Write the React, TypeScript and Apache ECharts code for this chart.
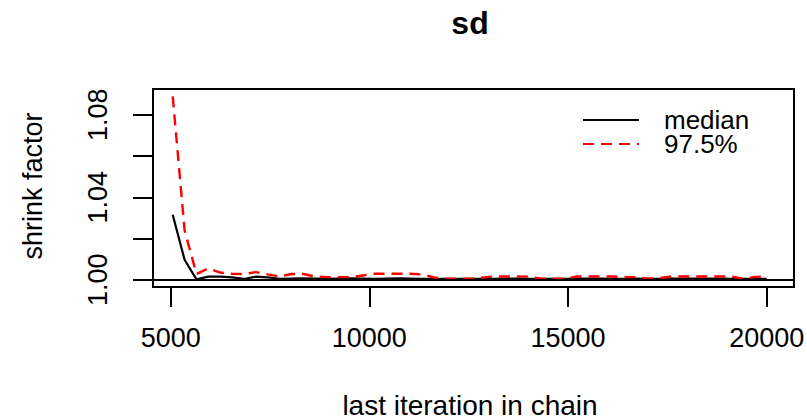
import React, { useEffect, useRef } from "react";
import * as echarts from "echarts";

const chartTitle = "sd";
const xAxisTitle = "last iteration in chain";
const yAxisTitle = "shrink factor";
const seriesNames = ["median", "97.5%"];

const lastIteration = [
  5051, 5350, 5649, 5948, 6247, 6546, 6845, 7144, 7443, 7742,
  8041, 8340, 8639, 8938, 9237, 9536, 9835, 10134, 10433, 10732,
  11031, 11330, 11629, 11928, 12227, 12526, 12825, 13124, 13423, 13722,
  14021, 14320, 14619, 14918, 15217, 15516, 15815, 16114, 16413, 16712,
  17011, 17310, 17609, 17908, 18207, 18506, 18805, 19104, 19403, 19702,
  20000,
];

const medianShrink = [
  1.0315, 1.0097, 1.0002, 1.0015, 1.0015, 1.0012, 1.0004, 1.0015, 1.0012, 1.0005,
  1.0006, 1.0007, 1.0006, 1.0005, 1.0006, 1.0007, 1.0006, 1.0005, 1.0006, 1.0007,
  1.0006, 1.0005, 1.0004, 1.0004, 1.0005, 1.0005, 1.0004, 1.0005, 1.0006, 1.0006,
  1.0005, 1.0004, 1.0004, 1.0005, 1.0006, 1.0006, 1.0006, 1.0005, 1.0005, 1.0006,
  1.0004, 1.0005, 1.0006, 1.0006, 1.0006, 1.0006, 1.0006, 1.0005, 1.0004, 1.0005,
  1.0005,
];

const upperShrink = [
  1.0889, 1.024, 1.0028, 1.0055, 1.0035, 1.0029, 1.0028, 1.0037, 1.0026, 1.0016,
  1.0028, 1.0028, 1.0016, 1.0013, 1.0013, 1.0013, 1.0021, 1.0029, 1.0029, 1.0029,
  1.0029, 1.0026, 1.0011, 1.0005, 1.0005, 1.0005, 1.001, 1.0016, 1.0016, 1.0016,
  1.0015, 1.0005, 1.0005, 1.0005, 1.0016, 1.0016, 1.0016, 1.0016, 1.0013, 1.0013,
  1.0005, 1.0008, 1.0016, 1.0016, 1.0016, 1.0016, 1.0016, 1.0016, 1.0005, 1.0014,
  1.0016,
];

const xTicks = [5000, 10000, 15000, 20000];
const yTicks = [1.0, 1.02, 1.04, 1.06, 1.08];
const yTickLabels = [1.0, 1.04, 1.08];
const referenceLevel = 1;

const FONT = "'Liberation Sans', Arial, sans-serif";

export default function App() {
  const ref = useRef<HTMLDivElement>(null);

  useEffect(() => {
    if (!ref.current) return;
    const chart = echarts.init(ref.current, undefined, { renderer: "svg" });
    const pairs = (ys: number[]) => lastIteration.map((x, i) => [x, ys[i]]);

    chart.setOption({
      animation: false,
      backgroundColor: "#ffffff",
      textStyle: { fontFamily: FONT, color: "#000" },
      grid: {
        left: 153,
        top: 89,
        width: 641,
        height: 198,
        show: true,
        borderColor: "#000",
        borderWidth: 2,
        backgroundColor: "transparent",
        containLabel: false,
        outerBoundsMode: "none",
      },
      xAxis: {
        type: "value",
        min: 4555,
        max: 20687,
        axisLine: { show: false },
        splitLine: { show: false },
        axisTick: {
          show: true,
          length: 20,
          inside: false,
          customValues: xTicks,
          lineStyle: { color: "#000", width: 2 },
        },
        axisLabel: {
          customValues: xTicks,
          fontSize: 27,
          fontFamily: FONT,
          color: "#000",
          margin: 51,
          verticalAlign: "middle",
          formatter: (v: number) => String(v),
        },
      },
      yAxis: {
        type: "value",
        min: 0.9965,
        max: 1.0925,
        axisLine: { show: false },
        splitLine: { show: false },
        axisTick: {
          show: true,
          length: 20,
          inside: false,
          customValues: yTicks,
          lineStyle: { color: "#000", width: 2 },
        },
        axisLabel: {
          customValues: yTickLabels,
          rotate: 90,
          fontSize: 27,
          fontFamily: FONT,
          color: "#000",
          margin: 55,
          align: "center",
          verticalAlign: "middle",
          formatter: (v: number) => v.toFixed(2),
        },
      },
      legend: {
        orient: "vertical",
        left: 582,
        top: 107,
        padding: 0,
        itemGap: -2,
        itemWidth: 56,
        itemHeight: 22,
        itemStyle: { opacity: 0 },
        textStyle: {
          fontSize: 26,
          fontFamily: FONT,
          color: "#000",
          lineHeight: 16,
          padding: [6, 0, 0, 20],
        },
        data: seriesNames,
      },
      graphic: [
        {
          type: "text",
          x: 470,
          y: 23,
          style: {
            text: chartTitle,
            fontSize: 32,
            fontWeight: "bold",
            fontFamily: FONT,
            fill: "#000",
            align: "center",
            verticalAlign: "middle",
          },
        },
        {
          type: "text",
          x: 470,
          y: 405,
          style: {
            text: xAxisTitle,
            fontSize: 28,
            fontFamily: FONT,
            fill: "#000",
            align: "center",
            verticalAlign: "middle",
          },
        },
        {
          type: "text",
          x: 33,
          y: 186,
          rotation: Math.PI / 2,
          style: {
            text: yAxisTitle,
            fontSize: 27,
            fontFamily: FONT,
            fill: "#000",
            align: "center",
            verticalAlign: "middle",
          },
        },
      ],
      series: [
        {
          name: seriesNames[0],
          type: "line",
          data: pairs(medianShrink),
          showSymbol: false,
          symbol: "none",
          lineStyle: { color: "#000", width: 2.2, type: "solid" },
          itemStyle: { color: "#000" },
          z: 3,
          markLine: {
            silent: true,
            symbol: ["none", "none"],
            label: { show: false },
            lineStyle: { color: "#000", width: 2, type: "solid" },
            data: [{ yAxis: referenceLevel }],
          },
        },
        {
          name: seriesNames[1],
          type: "line",
          data: pairs(upperShrink),
          showSymbol: false,
          symbol: "none",
          lineStyle: { color: "#ff0000", width: 2.4, type: [11, 7] },
          itemStyle: { color: "#ff0000" },
          z: 4,
        },
      ],
    });

    return () => chart.dispose();
  }, []);

  return (
    <div
      ref={ref}
      style={{ position: "fixed", left: 0, top: 0, width: 807, height: 419 }}
    />
  );
}
